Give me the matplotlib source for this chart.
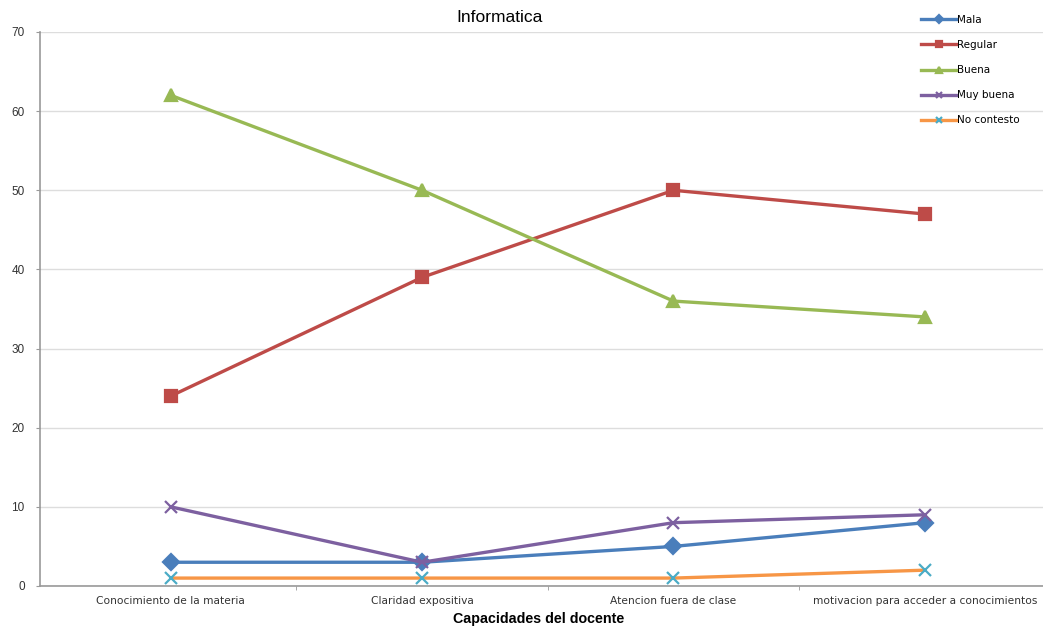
import matplotlib
matplotlib.use("Agg")
import matplotlib.pyplot as plt

categories = ["Conocimiento de la materia", "Claridad expositiva",
              "Atencion fuera de clase", "motivacion para acceder a conocimientos"]
mala = [3, 3, 5, 8]
regular = [24, 39, 50, 47]
buena = [62, 50, 36, 34]
muy_buena = [10, 3, 8, 9]
no_contesto = [1, 1, 1, 2]
y_ticks = [0, 10, 20, 30, 40, 50, 60, 70]

plt.rcParams['font.family'] = ['Liberation Sans', 'DejaVu Sans']

fig = plt.figure(figsize=(10.43, 6.30), dpi=100)
ax = fig.add_axes([40 / 1043, 1 - 586 / 630, 1003 / 1043, (586 - 32) / 630])

x = list(range(len(categories)))
series = [
    ("Mala", mala, "#4A7EBB", "D", "#4A7EBB"),
    ("Regular", regular, "#BE4B48", "s", "#BE4B48"),
    ("Buena", buena, "#98B954", "^", "#98B954"),
    ("Muy buena", muy_buena, "#7D60A0", "x", "#7D60A0"),
    ("No contesto", no_contesto, "#F79646", "x", "#4BACC6"),
]
for name, vals, col, mk, mcol in series:
    ax.plot(x, vals, color=col, lw=2.4, marker=mk, markersize=8,
            markerfacecolor=mcol, markeredgecolor=mcol, markeredgewidth=1.6,
            label=name, zorder=3)

ax.set_xlim(-0.52, 3.47)
ax.set_ylim(0, 70)
ax.set_yticks(y_ticks)
ax.set_xticks(x)
ax.set_xticklabels(categories, fontsize=7.7, color="#333333", family="DejaVu Sans")
ax.set_xticks([0.5, 1.5, 2.5], minor=True)
ax.tick_params(axis="x", which="major", length=0, pad=7)
ax.tick_params(axis="x", which="minor", length=3, color="#999999")
ax.tick_params(axis="y", labelsize=8.5, length=3, color="#999999", labelcolor="#333333", pad=8)
ax.grid(axis="y", color="#DDDDDD", lw=1)
ax.set_axisbelow(True)
for s in ("top", "right"):
    ax.spines[s].set_visible(False)
for s in ("left", "bottom"):
    ax.spines[s].set_color("#999999")
    ax.spines[s].set_linewidth(1.2)

fig.text(500 / 1043, 1 - 18 / 630, "Informatica", ha="center", va="center", fontsize=12.5)
fig.text(539 / 1043, 1 - 619 / 630, "Capacidades del docente", ha="center", va="center",
         fontsize=10.3, fontweight="bold")

leg = ax.legend(loc="upper left", bbox_to_anchor=(921 / 1043, 1 - 15 / 630),
                bbox_transform=fig.transFigure, frameon=False,
                handlelength=3.4, handletextpad=0.1, labelspacing=1.45,
                borderaxespad=0, borderpad=0, prop={"family": "DejaVu Sans", "size": 7.5})
for h in leg.legend_handles:
    h.set_markersize(4)

fig.savefig("out.png", dpi=100)
